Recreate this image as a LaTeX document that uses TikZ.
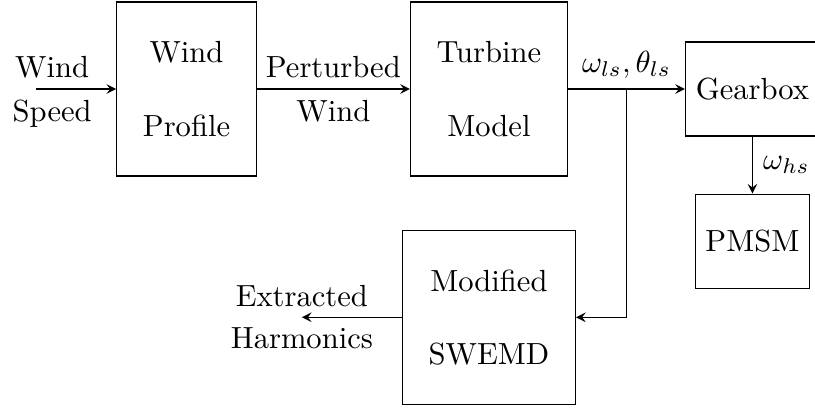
\documentclass[tikz,border=0pt]{standalone}
\usepackage{tikz}
\usetikzlibrary{positioning, arrows, calc}
\tikzset{>=stealth, block/.style={draw, align=center, inner sep=0.3cm, minimum height=2cm}, unit/.style={draw, minimum height=1.08cm}, every edge/.style={draw,->}}

\begin{document}
\begin{tikzpicture}
            \useasboundingbox (-2.144, 1.023) rectangle (7.224, -3.713);
            \node[block] at (0, 0) (wp) {Wind\\[12pt]Profile};
            \node[block, right=1.76cm of wp] (tm) {Turbine\\[12pt]Model};
            \node[unit, right=1.345cm of tm] (gb) {Gearbox};
            \node[unit, below=0.655cm of gb] (pm) {PMSM};
            \node[block, below=0.61cm of tm] (sw) {Modified\\[12pt]SWEMD};
            \coordinate[left=0.92cm of wp] (ws);
            \coordinate[left=1.15cm of sw] (eh);
            \coordinate (br) at ($(tm.east)!0.5!(gb.west)$);
            
            \draw   (ws) edge node[pos=0.2, above]{Wind} node[pos=0.2, below]{Speed} (wp)
                    (wp) edge node[above]{Perturbed} node[below]{Wind} (tm)
                    (tm) edge node[above]{$\omega_{ls}, \theta_{ls}$} (gb)
                    (gb) edge node[right]{$\omega_{hs}$} (pm)
                    (sw) edge node[pos=1, above]{Extracted} node[pos=1, below]{Harmonics} (eh);
            \draw[->] (br) |- (sw.east);
        \end{tikzpicture}
\end{document}
